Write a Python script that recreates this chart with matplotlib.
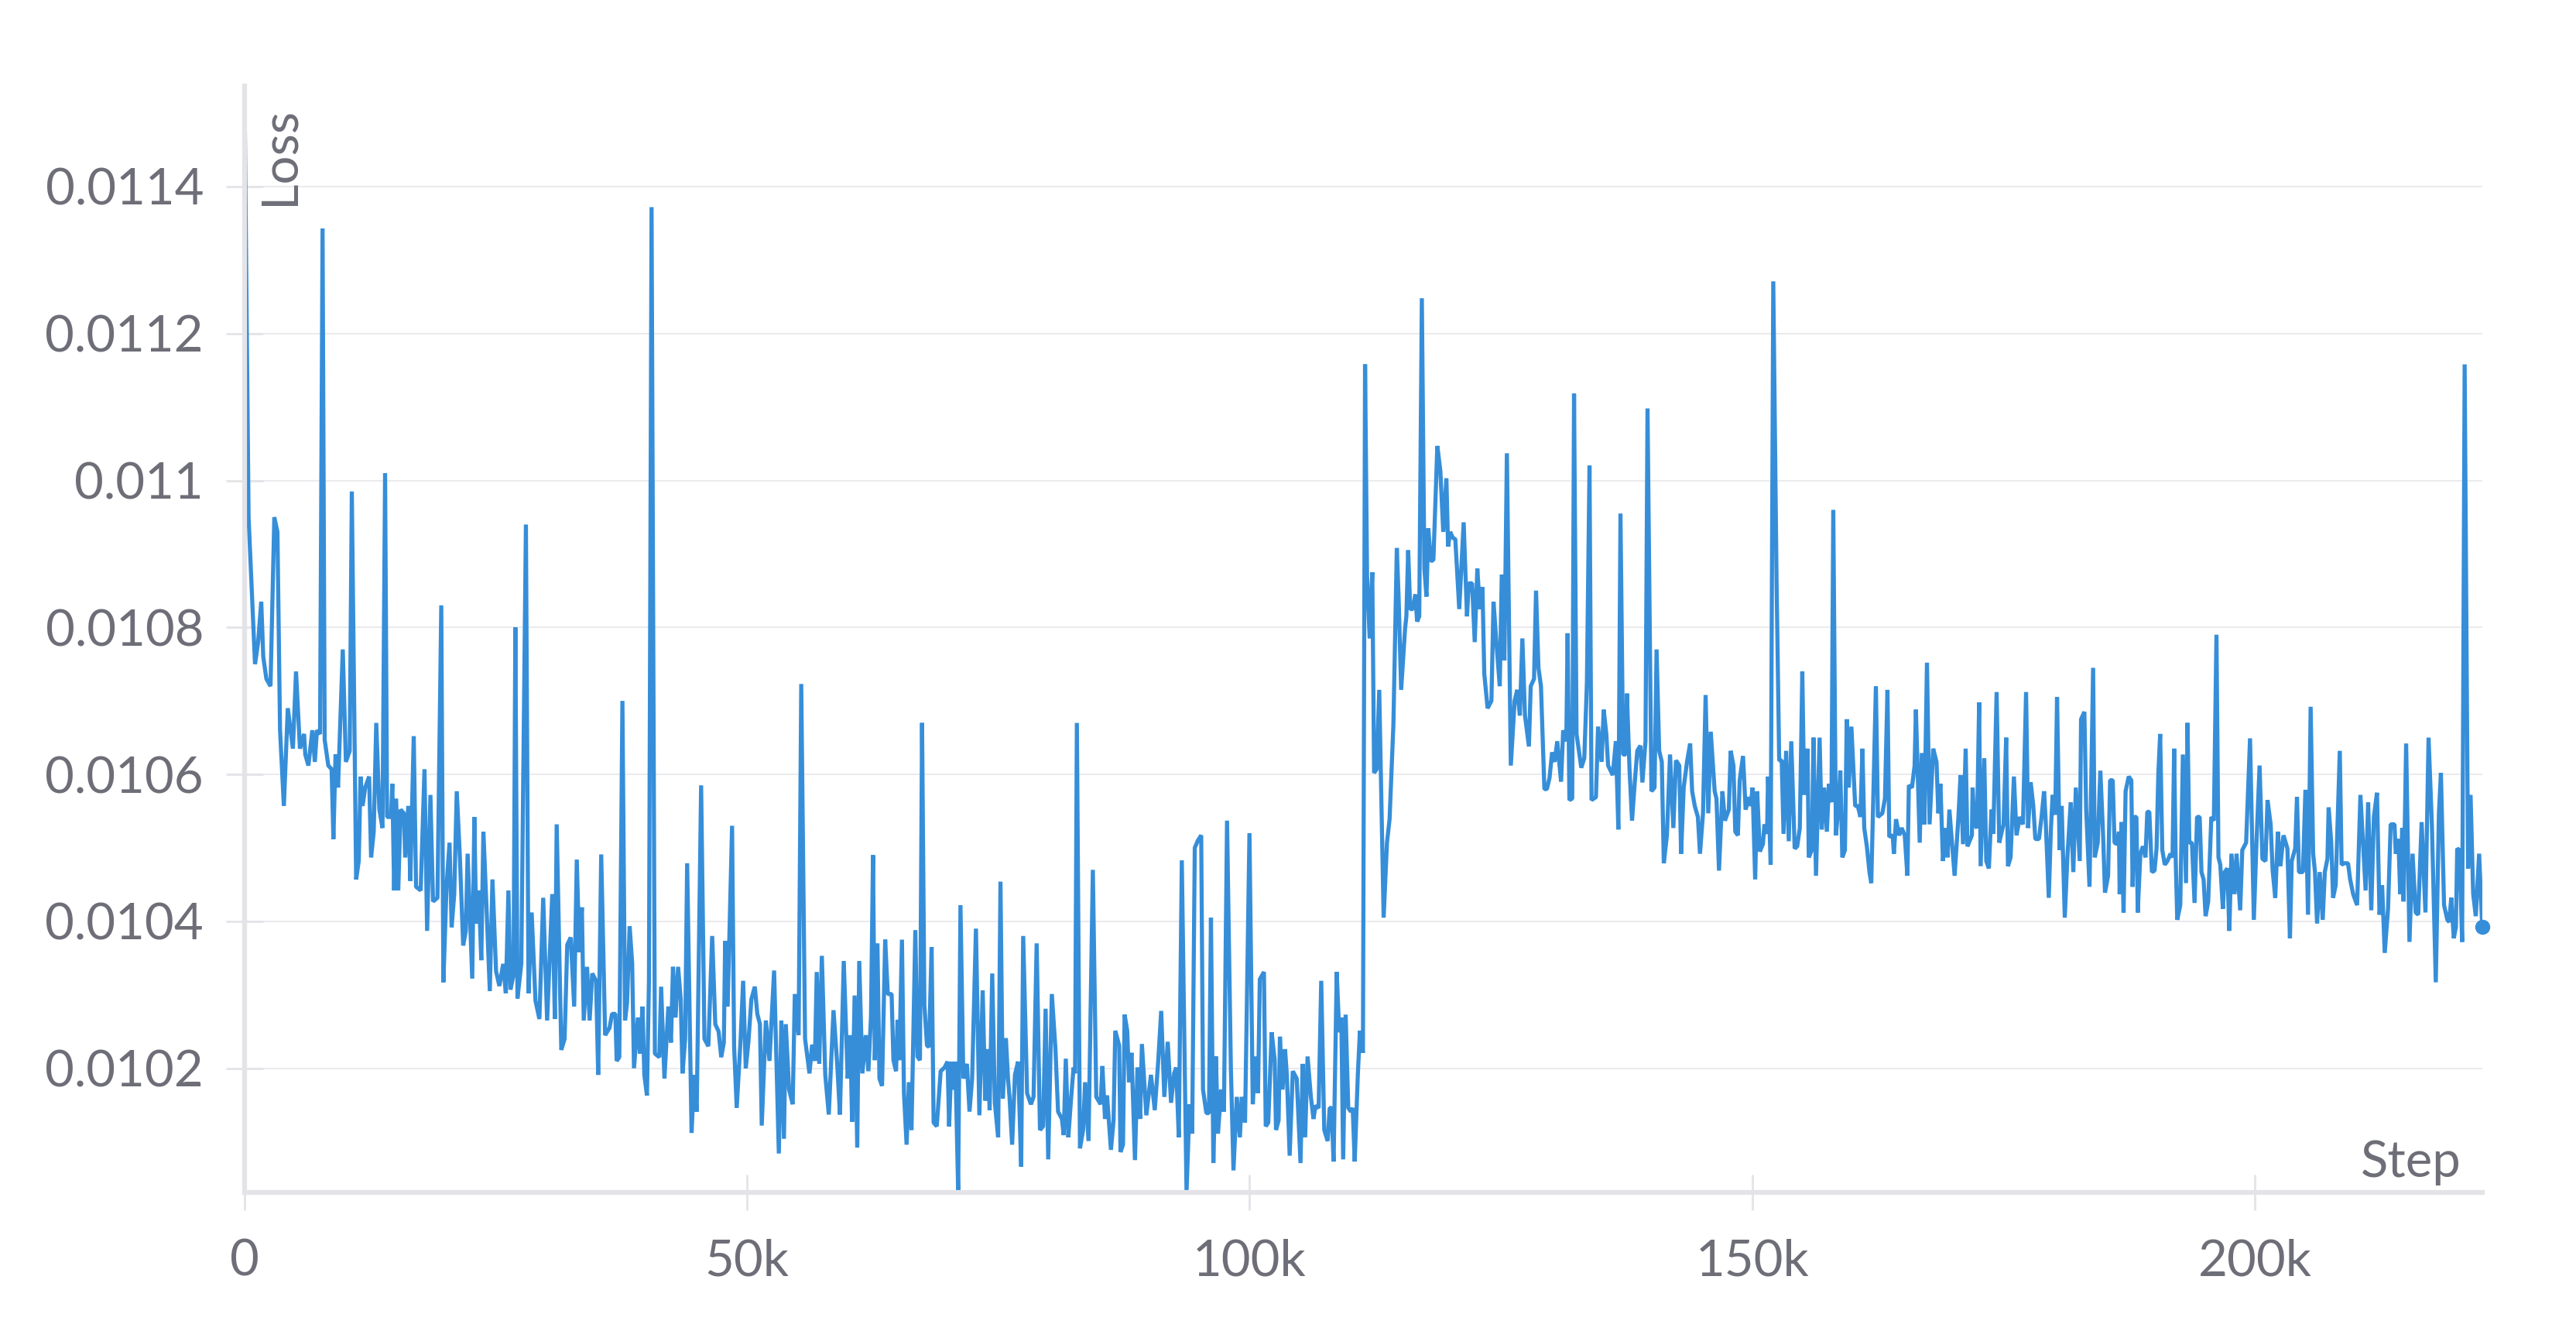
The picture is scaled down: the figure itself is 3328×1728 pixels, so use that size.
import numpy as np
import matplotlib.pyplot as plt
from matplotlib.ticker import MultipleLocator, FuncFormatter

# steps in thousands, loss in millionths (x1e-6) in chunks
steps_a = [0, 0.41, 1.05, 1.36, 1.67, 1.87, 2.18, 2.59, 2.97, 3.28, 3.54, 3.92, 4.31, 4.82, 5.13, 5.52, 5.93, 6.05, 6.36, 6.75,
           7.00, 7.21, 7.52, 7.77, 7.98, 8.34, 8.67, 8.85, 9.06, 9.31, 9.78, 10.09, 10.47, 10.68, 11.11, 11.37, 11.55, 11.75, 12.01, 12.40,
           12.60, 12.86, 13.11, 13.42, 13.73, 13.99, 14.19, 14.58, 14.71, 14.89, 15.09, 15.30, 15.53, 15.86, 15.99, 16.30, 16.50, 16.84, 17.07, 17.53,
           17.91, 18.17, 18.50, 18.76, 19.20, 19.58, 19.79, 20.10, 20.40, 20.61, 20.87, 21.12, 21.43, 21.76, 22.02, 22.20, 22.66, 22.87, 23.05, 23.31,
           23.56, 23.77, 24.07, 24.41, 24.67, 25.03, 25.36, 25.74, 26.00, 26.26, 26.46, 26.77, 26.95, 27.16, 27.54, 28.00, 28.26, 28.57, 28.95, 29.34,
           29.72, 30.11, 30.62, 30.88, 31.06]
loss_a = [11537, 10950, 10750, 10780, 10835, 10760, 10730, 10720, 10950, 10930, 10660, 10557, 10690, 10635, 10740, 10635, 10655, 10627, 10612, 10660,
          10617, 10660, 10655, 11343, 10647, 10612, 10607, 10512, 10627, 10582, 10770, 10617, 10632, 10985, 10457, 10482, 10597, 10557, 10582, 10597,
          10487, 10522, 10670, 10552, 10527, 11010, 10542, 10542, 10587, 10442, 10567, 10442, 10552, 10547, 10487, 10557, 10455, 10652, 10447, 10442,
          10607, 10387, 10572, 10427, 10432, 10830, 10317, 10447, 10507, 10392, 10437, 10577, 10487, 10367, 10387, 10492, 10322, 10542, 10397, 10442,
          10347, 10522, 10422, 10305, 10457, 10332, 10312, 10342, 10302, 10442, 10307, 10327, 10800, 10295, 10342, 10940, 10302, 10412, 10292, 10267,
          10432, 10265, 10437, 10267, 10532]

steps_b = [31.52, 31.85, 32.11, 32.46, 32.80, 33.06, 33.31, 33.57, 33.75, 34.08, 34.34, 34.60, 34.98, 35.19, 35.49, 35.88, 36.32, 36.57, 36.90, 37.03,
           37.29, 37.60, 37.86, 38.06, 38.32, 38.57, 38.75, 39.14, 39.34, 39.60, 39.78, 40.04, 40.24, 40.50, 40.83, 41.27, 41.45, 41.78, 42.17, 42.43,
           42.63, 42.89, 43.14, 43.40, 43.58, 43.84, 44.04, 44.48, 44.74, 44.99, 45.43, 45.76, 46.15, 46.53, 46.84, 47.17, 47.43, 47.69, 47.82, 48.07,
           48.51, 48.71, 48.97, 49.36, 49.61, 49.87, 50.13, 50.43, 50.77, 51.02, 51.28, 51.46, 51.87, 52.23, 52.69, 53.16, 53.41, 53.67, 53.85, 54.18,
           54.54, 54.75, 55.13, 55.39, 55.77, 56.21, 56.47, 56.75, 56.93, 57.18, 57.44, 57.78, 58.13, 58.60, 58.98, 59.24, 59.62, 60.01, 60.27, 60.45,
           60.70, 60.96, 61.16, 61.47, 61.81]
loss_b = [10225, 10240, 10368, 10378, 10284, 10484, 10358, 10419, 10265, 10338, 10265, 10329, 10319, 10191, 10491, 10245, 10255, 10274, 10274, 10210,
          10215, 10700, 10265, 10289, 10393, 10343, 10200, 10269, 10220, 10284, 10191, 10163, 10319, 11372, 10220, 10215, 10311, 10186, 10284, 10235,
          10338, 10269, 10338, 10294, 10193, 10240, 10479, 10112, 10191, 10141, 10585, 10240, 10230, 10380, 10260, 10250, 10215, 10235, 10373, 10284,
          10530, 10230, 10146, 10240, 10319, 10200, 10235, 10294, 10311, 10274, 10260, 10122, 10265, 10210, 10333, 10084, 10265, 10104, 10260, 10171,
          10151, 10301, 10245, 10723, 10240, 10193, 10232, 10210, 10331, 10206, 10353, 10191, 10137, 10279, 10203, 10137, 10346, 10186, 10245, 10127,
          10299, 10092, 10346, 10193, 10245]

steps_c = [62.07, 62.33, 62.53, 62.71, 62.97, 63.17, 63.43, 63.74, 64.00, 64.38, 64.56, 64.82, 64.97, 65.15, 65.41, 65.61, 65.87, 66.10, 66.36, 66.74,
           66.95, 67.20, 67.41, 67.64, 67.90, 68.10, 68.36, 68.56, 68.87, 69.26, 69.64, 69.95, 70.10, 70.33, 70.54, 70.72, 71.00, 71.23, 71.52, 71.87,
           72.13, 72.39, 72.77, 73.11, 73.44, 73.70, 73.95, 74.13, 74.39, 74.65, 74.98, 75.21, 75.44, 75.75, 75.96, 76.11, 76.37, 76.65, 76.96, 77.27,
           77.47, 77.86, 78.24, 78.50, 78.81, 79.14, 79.45, 79.70, 79.96, 80.32, 80.68, 80.94, 81.32, 81.50, 81.71, 81.96, 82.22, 82.48, 82.63, 82.81,
           83.12, 83.43, 83.63, 83.97, 84.40, 84.74, 85.17, 85.35, 85.61, 85.81, 86.20, 86.46, 86.63, 87.02, 87.15, 87.40, 87.56, 87.82, 88.00, 88.25,
           88.59, 88.84, 89.10, 89.28, 89.72, 90.18, 90.56, 90.90, 91.20, 91.51, 91.85, 92.18, 92.49]
loss_c = [10196, 10271, 10490, 10211, 10370, 10186, 10176, 10375, 10301, 10301, 10211, 10196, 10266, 10211, 10375, 10166, 10096, 10181, 10116, 10388,
          10216, 10211, 10670, 10286, 10231, 10229, 10365, 10126, 10121, 10196, 10201, 10209, 10121, 10209, 10171, 10209, 10033, 10422, 10186, 10206,
          10141, 10186, 10390, 10136, 10306, 10156, 10226, 10143, 10329, 10153, 10106, 10454, 10159, 10241, 10186, 10161, 10096, 10191, 10209, 10066,
          10380, 10166, 10151, 10161, 10370, 10116, 10121, 10281, 10076, 10301, 10226, 10141, 10131, 10109, 10213, 10106, 10156, 10201, 10193, 10670,
          10091, 10116, 10181, 10101, 10470, 10161, 10151, 10203, 10131, 10163, 10089, 10129, 10251, 10231, 10086, 10096, 10273, 10251, 10181, 10221,
          10075, 10201, 10131, 10233, 10136, 10191, 10143, 10209, 10278, 10161, 10236, 10153, 10193]

steps_d = [92.69, 92.95, 93.25, 93.72, 94.02, 94.28, 94.54, 94.85, 95.18, 95.36, 95.69, 95.95, 96.15, 96.39, 96.64, 96.85, 97.16, 97.44, 97.75, 98.13,
           98.39, 98.72, 99.03, 99.21, 99.54, 99.98, 100.31, 100.57, 100.83, 101.01, 101.42, 101.60, 101.85, 102.19, 102.49, 102.62, 102.88, 103.01, 103.27, 103.52,
           103.70, 103.98, 104.29, 104.68, 105.06, 105.27, 105.52, 105.76, 106.09, 106.35, 106.55, 106.86, 107.12, 107.42, 107.76, 107.96, 108.14, 108.35, 108.66, 108.91,
           109.12, 109.30, 109.55, 109.81, 110.07, 110.25, 110.45, 110.76, 110.97, 111.27, 111.48, 111.68, 111.94, 112.20, 112.38, 112.63, 112.89, 113.33, 113.66, 113.92,
           114.30, 114.64, 114.82, 115.07, 115.46, 115.59, 115.77, 115.97, 116.23, 116.48, 116.66, 116.87, 117.13, 117.38, 117.59, 117.77, 118.03, 118.28, 118.67, 118.97,
           119.26, 119.57, 119.74, 119.95, 120.21, 120.46, 120.85, 121.29, 121.62, 121.80, 122.13, 122.39, 122.65, 122.90, 123.16, 123.34]
loss_d = [10201, 10106, 10483, 10031, 10151, 10111, 10500, 10510, 10517, 10171, 10139, 10139, 10405, 10071, 10216, 10111, 10171, 10141, 10537, 10201,
          10061, 10161, 10106, 10161, 10126, 10520, 10151, 10216, 10166, 10321, 10331, 10121, 10126, 10249, 10211, 10116, 10129, 10243, 10171, 10226,
          10191, 10081, 10196, 10186, 10071, 10206, 10106, 10216, 10161, 10131, 10149, 10146, 10319, 10116, 10101, 10146, 10146, 10073, 10331, 10249,
          10269, 10076, 10273, 10146, 10141, 10146, 10073, 10191, 10251, 10221, 11158, 10870, 10785, 10875, 10602, 10607, 10715, 10405, 10507, 10539,
          10668, 10908, 10840, 10715, 10798, 10815, 10905, 10825, 10825, 10845, 10808, 10815, 11248, 10880, 10842, 10935, 10890, 10892, 11047, 11013,
          10930, 11003, 10910, 10930, 10922, 10920, 10825, 10943, 10815, 10860, 10860, 10780, 10880, 10825, 10855, 10737]

steps_e = [123.67, 124.05, 124.26, 124.57, 124.88, 125.08, 125.34, 125.59, 125.98, 126.36, 126.62, 126.88, 127.13, 127.39, 127.78, 127.96, 128.29, 128.49, 128.73, 128.98,
           129.32, 129.57, 129.83, 130.09, 130.34, 130.60, 130.98, 131.19, 131.50, 131.63, 131.81, 132.09, 132.27, 132.52, 132.99, 133.29, 133.55, 133.81, 134.01, 134.45,
           134.66, 135.01, 135.22, 135.48, 135.66, 136.12, 136.43, 136.68, 136.89, 137.15, 137.40, 137.53, 137.79, 138.04, 138.30, 138.56, 138.87, 139.07, 139.38, 139.58,
           139.97, 140.28, 140.48, 140.74, 141.00, 141.20, 141.51, 141.82, 142.15, 142.41, 142.74, 142.92, 143.18, 143.51, 143.82, 144.02, 144.28, 144.59, 144.80, 145.10,
           145.36, 145.62, 145.87, 146.26, 146.44, 146.69, 147.03, 147.28, 147.67, 147.85, 148.13, 148.31, 148.57, 148.75, 149.08, 149.34, 149.67, 149.85, 150.03, 150.29,
           150.49, 150.75, 151.06, 151.21, 151.47, 151.57, 151.83, 152.09, 152.42, 152.68, 152.93, 153.11, 153.37, 153.63, 153.88, 154.22]
loss_e = [10690, 10700, 10835, 10775, 10720, 10872, 10755, 11037, 10612, 10700, 10715, 10680, 10785, 10680, 10638, 10720, 10730, 10850, 10745, 10720,
          10580, 10580, 10595, 10630, 10617, 10645, 10590, 10660, 10645, 10792, 10565, 10567, 11118, 10655, 10609, 10622, 10725, 11020, 10565, 10569,
          10665, 10617, 10688, 10655, 10612, 10599, 10645, 10525, 10955, 10627, 10627, 10710, 10607, 10537, 10587, 10632, 10639, 10589, 10645, 11098,
          10577, 10582, 10770, 10632, 10617, 10479, 10517, 10627, 10527, 10619, 10612, 10492, 10582, 10617, 10642, 10577, 10557, 10542, 10492, 10547,
          10708, 10547, 10658, 10577, 10567, 10469, 10577, 10537, 10552, 10632, 10612, 10522, 10517, 10592, 10625, 10552, 10569, 10557, 10582, 10457,
          10577, 10495, 10505, 10532, 10519, 10597, 10477, 11271, 10860, 10619, 10619, 10519, 10632, 10509, 10645, 10499]

steps_f = [154.47, 154.73, 154.98, 155.16, 155.50, 155.62, 155.93, 156.09, 156.34, 156.70, 156.91, 157.16, 157.42, 157.63, 157.88, 158.06, 158.32, 158.58, 158.76, 158.96,
           159.22, 159.40, 159.60, 159.86, 160.24, 160.50, 160.76, 160.96, 161.14, 161.40, 161.66, 161.84, 162.30, 162.50, 162.94, 163.20, 163.45, 163.63, 163.97, 164.09,
           164.30, 164.61, 164.86, 165.17, 165.43, 165.58, 165.89, 166.15, 166.28, 166.66, 166.87, 167.12, 167.38, 167.64, 168.00, 168.33, 168.51, 168.72, 168.97, 169.23,
           169.43, 169.61, 169.87, 170.13, 170.51, 170.72, 170.97, 171.23, 171.41, 171.85, 171.92, 172.10, 172.36, 172.57, 172.72, 173.08, 173.28, 173.54, 173.80, 173.98,
           174.31, 174.57, 174.82, 175.00, 175.26, 175.44, 175.70, 176.03, 176.29, 176.62, 176.93, 177.24, 177.44, 177.70, 177.96, 178.16, 178.52, 178.78, 179.03, 179.19,
           179.50, 179.70, 179.88, 180.14, 180.32, 180.58, 180.78, 181.09, 181.35, 181.68, 181.94, 182.19, 182.58, 182.71, 183.04, 183.22, 183.55, 183.91, 184.07, 184.37,
           184.63, 184.89, 185.09]
loss_f = [10502, 10527, 10740, 10572, 10635, 10487, 10497, 10650, 10462, 10650, 10525, 10582, 10522, 10587, 10562, 10960, 10517, 10557, 10605, 10487,
          10497, 10675, 10582, 10665, 10557, 10557, 10542, 10635, 10527, 10502, 10467, 10452, 10720, 10542, 10547, 10567, 10715, 10515, 10517, 10492,
          10539, 10517, 10527, 10517, 10462, 10585, 10582, 10612, 10688, 10507, 10629, 10532, 10752, 10532, 10635, 10617, 10547, 10587, 10482, 10527,
          10487, 10552, 10507, 10462, 10542, 10599, 10505, 10635, 10502, 10517, 10582, 10532, 10527, 10698, 10475, 10622, 10482, 10472, 10552, 10519,
          10712, 10507, 10522, 10532, 10650, 10475, 10487, 10597, 10517, 10542, 10532, 10712, 10527, 10589, 10557, 10512, 10512, 10542, 10577, 10537,
          10432, 10522, 10572, 10545, 10705, 10497, 10557, 10405, 10487, 10562, 10467, 10582, 10482, 10675, 10685, 10552, 10447, 10745, 10487, 10507,
          10605, 10522, 10439]

steps_g = [185.40, 185.60, 185.86, 186.04, 186.30, 186.48, 186.55, 186.73, 186.94, 187.14, 187.45, 187.71, 187.84, 188.02, 188.22, 188.35, 188.61, 188.86, 189.12, 189.30,
           189.50, 189.76, 190.02, 190.22, 190.40, 190.58, 190.79, 191.04, 191.30, 191.61, 191.81, 191.97, 192.12, 192.28, 192.58, 192.84, 193.15, 193.30, 193.48, 193.74,
           194.00, 194.25, 194.51, 194.69, 194.90, 195.10, 195.36, 195.67, 195.92, 196.18, 196.38, 196.56, 196.82, 197.00, 197.26, 197.46, 197.67, 197.98, 198.18, 198.54,
           198.75, 199.13, 199.52, 199.90, 200.16, 200.47, 200.75, 201.06, 201.26, 201.57, 201.77, 202.03, 202.29, 202.54, 202.85, 203.24, 203.49, 203.67, 204.01, 204.19,
           204.39, 204.78, 205.03, 205.29, 205.55, 205.80, 205.98, 206.19, 206.45, 206.75, 206.96, 207.22, 207.34, 207.60, 207.78, 208.04, 208.45, 208.63, 208.88, 209.27,
           209.48, 209.78, 210.17, 210.50, 210.76, 211.02, 211.27, 211.58, 211.84, 212.15, 212.40, 212.66, 212.92, 213.25, 213.51, 213.89, 214.02, 214.28, 214.46, 214.66,
           214.79, 215.05, 215.38, 215.69, 216.00, 216.25, 216.59, 216.97, 217.28, 217.61, 218.00, 218.31, 218.51, 218.82, 219.15, 219.33, 219.54, 219.79, 220.00, 220.13,
           220.36, 220.62, 220.87, 221.21, 221.46, 221.72, 221.98, 222.31, 222.62]
loss_g = [10462, 10592, 10592, 10507, 10505, 10522, 10437, 10535, 10412, 10577, 10597, 10592, 10447, 10542, 10542, 10412, 10492, 10502, 10487, 10549,
          10549, 10467, 10469, 10499, 10602, 10655, 10497, 10477, 10482, 10492, 10487, 10635, 10487, 10402, 10422, 10627, 10452, 10670, 10507, 10507,
          10425, 10542, 10542, 10467, 10457, 10407, 10427, 10542, 10537, 10790, 10487, 10477, 10417, 10467, 10472, 10387, 10492, 10437, 10492, 10415,
          10497, 10507, 10649, 10402, 10507, 10612, 10485, 10482, 10565, 10532, 10469, 10432, 10522, 10475, 10517, 10499, 10377, 10482, 10499, 10569,
          10467, 10467, 10579, 10409, 10692, 10492, 10467, 10397, 10467, 10402, 10467, 10485, 10555, 10507, 10432, 10449, 10632, 10477, 10479, 10479,
          10457, 10437, 10422, 10572, 10507, 10442, 10562, 10415, 10542, 10575, 10409, 10449, 10357, 10417, 10532, 10532, 10492, 10512, 10437, 10527,
          10427, 10642, 10372, 10492, 10412, 10409, 10535, 10412, 10650, 10532, 10317, 10547, 10602, 10422, 10402, 10399, 10432, 10377, 10392, 10499,
          10497, 10372, 11158, 10472, 10572, 10437, 10407, 10492, 10392]

chunks = [(steps_a, loss_a), (steps_b, loss_b), (steps_c, loss_c), (steps_d, loss_d),
          (steps_e, loss_e), (steps_f, loss_f), (steps_g, loss_g)]
for s, l in chunks:
    assert len(s) == len(l), (len(s), len(l))

step = np.concatenate([s for s, _ in chunks]) * 1000
loss = np.concatenate([l for _, l in chunks]) * 1e-6

line_color = '#368ed9'
text_color = '#6e6e78'
axis_color = '#e4e4e8'

plt.rcParams['font.family'] = ['Lato', 'DejaVu Sans']

fig = plt.figure(figsize=(33.28, 17.28), dpi=100)
ax = fig.add_axes([0.0949, 0.1088, 0.8687, 0.827])

ax.plot(step, loss, color=line_color, lw=3.8, solid_joinstyle='bevel')
ax.plot(step[-1], loss[-1], 'o', ms=13, color=line_color, clip_on=False)

ax.set_xlim(0, step[-1])
ax.set_ylim(loss.min(), loss.max())

ax.yaxis.set_major_locator(MultipleLocator(0.0002))
ax.yaxis.set_major_formatter(FuncFormatter(lambda v, p: f'{round(v, 6):g}'))
ax.xaxis.set_major_locator(MultipleLocator(50000))
ax.xaxis.set_major_formatter(FuncFormatter(lambda v, p: '0' if v == 0 else f'{int(round(v / 1000))}k'))

for side in ['top', 'right']:
    ax.spines[side].set_visible(False)
for side in ['left', 'bottom']:
    ax.spines[side].set_color(axis_color)
    ax.spines[side].set_linewidth(4.5)

ax.tick_params(axis='y', direction='inout', length=34, width=2, color=axis_color,
               pad=21, labelsize=47, labelcolor=text_color)
ax.tick_params(axis='x', direction='inout', length=33, width=2, color=axis_color,
               pad=26, labelsize=47, labelcolor=text_color)

ax.yaxis.grid(True, color='#ebebee', lw=1.5)
ax.set_axisbelow(True)

ax.text(0.0055, 0.981, 'Loss', transform=ax.transAxes, rotation=90,
        ha='left', va='top', fontsize=47, color=text_color)
ax.text(0.9907, 0.014, 'Step', transform=ax.transAxes,
        ha='right', va='baseline', fontsize=47, color=text_color)

fig.savefig('out.png', dpi=100, facecolor='white')
